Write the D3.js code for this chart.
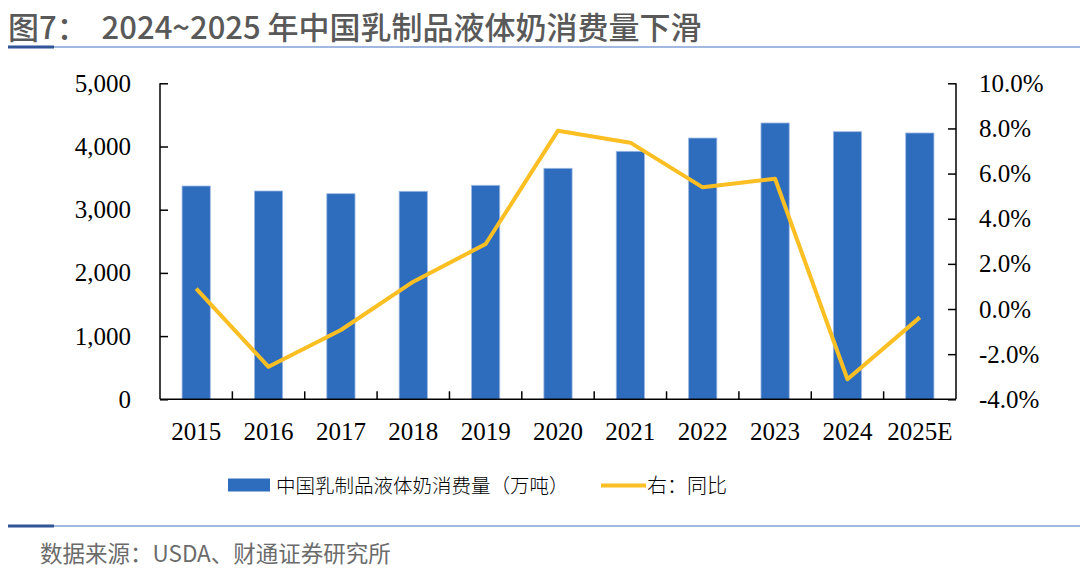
<!DOCTYPE html>
<html>
<head>
<meta charset="utf-8">
<script src="https://cdn.jsdelivr.net/npm/d3@7/dist/d3.min.js"></script>
<style>
  body { margin: 0; background: #fff; }
  svg { display: block; }
</style>
</head>
<body>
<svg id="chart" width="1080" height="568"></svg>
<script>
// データ
const years = ["2015", "2016", "2017", "2018", "2019", "2020", "2021", "2022", "2023", "2024", "2025E"];
const consumption = [3375, 3296, 3253, 3291, 3386, 3655, 3924, 4134, 4372, 4234, 4214];
const yoy = [0.9, -2.56, -0.93, 1.21, 2.88, 7.9, 7.37, 5.39, 5.77, -3.11, -0.37];
const leftTicks = [0, 1000, 2000, 3000, 4000, 5000];
const rightTicks = [-4, -2, 0, 2, 4, 6, 8, 10];

const svg = d3.select("#chart");
const pLeft = 160, pRight = 956, pTop = 83.3, pBottom = 399.3;
const serif = "'Liberation Serif', 'Times New Roman', serif";
const cjk = "'Noto Sans CJK SC', sans-serif";

// タイトル
svg.append("text")
  .attr("x", 8).attr("y", 39)
  .attr("font-family", cjk).attr("font-size", 31).attr("font-weight", 500)
  .attr("fill", "#595959")
  .attr("xml:space", "preserve")
  .text("图7：  2024~2025 年中国乳制品液体奶消费量下滑");
svg.append("line").attr("x1", 8).attr("x2", 1080).attr("y1", 47).attr("y2", 47)
  .attr("stroke", "#4472C4").attr("stroke-width", 1.2);
svg.append("line").attr("x1", 8).attr("x2", 54).attr("y1", 47).attr("y2", 47)
  .attr("stroke", "#2F5597").attr("stroke-width", 3);

// スケール
const x = d3.scaleBand().domain(years).range([pLeft, pRight]).padding(0);
const yL = d3.scaleLinear().domain([0, 5000]).range([pBottom, pTop]);
const yR = d3.scaleLinear().domain([-4, 10]).range([pBottom, pTop]);
const barW = x.bandwidth() * 0.39;

// 棒
svg.append("g").selectAll("rect")
  .data(years)
  .enter()
  .append("rect")
  .attr("x", (d) => x(d) + (x.bandwidth() - barW) / 2)
  .attr("y", (d, i) => yL(consumption[i]))
  .attr("width", barW)
  .attr("height", (d, i) => pBottom - yL(consumption[i]))
  .attr("fill", "#2E6CBD")
  .attr("stroke", "#9DB8E3")
  .attr("stroke-width", 0.8);

// 折れ線
const line = d3.line()
  .x((d, i) => x(years[i]) + x.bandwidth() / 2)
  .y((d) => yR(d));
svg.append("path")
  .datum(yoy)
  .attr("d", line)
  .attr("fill", "none")
  .attr("stroke", "#FBBF24")
  .attr("stroke-width", 4)
  .attr("stroke-linejoin", "round");

// 左軸
const gL = svg.append("g").attr("transform", `translate(${pLeft},0)`)
  .call(d3.axisRight(yL).tickValues(leftTicks).tickSize(8).tickFormat(() => ""));
gL.selectAll("path, line").attr("stroke", "#000").attr("stroke-width", 1.5);
gL.select(".domain").attr("d", `M0,${pTop}V${pBottom}`);
svg.append("g").selectAll("text")
  .data(leftTicks)
  .enter()
  .append("text")
  .attr("x", 131).attr("y", (d) => yL(d) + 8.5)
  .attr("text-anchor", "end")
  .attr("font-family", serif).attr("font-size", 25)
  .attr("fill", "#000")
  .text((d) => d3.format(",")(d));

// 右軸
const gR = svg.append("g").attr("transform", `translate(${pRight},0)`)
  .call(d3.axisLeft(yR).tickValues(rightTicks).tickSize(8).tickFormat(() => ""));
gR.selectAll("path, line").attr("stroke", "#000").attr("stroke-width", 1.5);
gR.select(".domain").attr("d", `M0,${pTop}V${pBottom}`);
svg.append("g").selectAll("text")
  .data(rightTicks)
  .enter()
  .append("text")
  .attr("x", 979).attr("y", (d) => yR(d) + 8.5)
  .attr("font-family", serif).attr("font-size", 25)
  .attr("fill", "#000")
  .text((d) => d.toFixed(1) + "%");

// X軸
svg.append("line").attr("x1", pLeft).attr("x2", pRight).attr("y1", pBottom).attr("y2", pBottom)
  .attr("stroke", "#000").attr("stroke-width", 1.5);
svg.append("g").selectAll("line")
  .data(years.slice(1))
  .enter()
  .append("line")
  .attr("x1", (d) => x(d)).attr("x2", (d) => x(d))
  .attr("y1", pBottom).attr("y2", pBottom - 8)
  .attr("stroke", "#000").attr("stroke-width", 1.5);
svg.append("g").selectAll("text")
  .data(years)
  .enter()
  .append("text")
  .attr("x", (d) => x(d) + x.bandwidth() / 2)
  .attr("y", 440)
  .attr("text-anchor", "middle")
  .attr("font-family", serif).attr("font-size", 25)
  .attr("fill", "#000")
  .text((d) => d);

// 凡例
svg.append("rect").attr("x", 228).attr("y", 478.5).attr("width", 42).attr("height", 13)
  .attr("fill", "#2E6CBD");
svg.append("text").attr("x", 276).attr("y", 493)
  .attr("font-family", cjk).attr("font-size", 19.5).attr("font-weight", 300).attr("fill", "#000")
  .text("中国乳制品液体奶消费量（万吨）");
svg.append("line").attr("x1", 601).attr("x2", 646).attr("y1", 485.5).attr("y2", 485.5)
  .attr("stroke", "#FBBF24").attr("stroke-width", 4);
svg.append("text").attr("x", 647).attr("y", 493)
  .attr("font-family", cjk).attr("font-size", 20).attr("font-weight", 300).attr("fill", "#000")
  .text("右：同比");

// 出典
svg.append("line").attr("x1", 8).attr("x2", 1080).attr("y1", 526).attr("y2", 526)
  .attr("stroke", "#4472C4").attr("stroke-width", 1.2);
svg.append("line").attr("x1", 8).attr("x2", 54).attr("y1", 526).attr("y2", 526)
  .attr("stroke", "#2F5597").attr("stroke-width", 3);
svg.append("text").attr("x", 40).attr("y", 562)
  .attr("font-family", cjk).attr("font-size", 22.5).attr("fill", "#6b6b6b")
  .text("数据来源：USDA、财通证券研究所");
</script>
</body>
</html>
